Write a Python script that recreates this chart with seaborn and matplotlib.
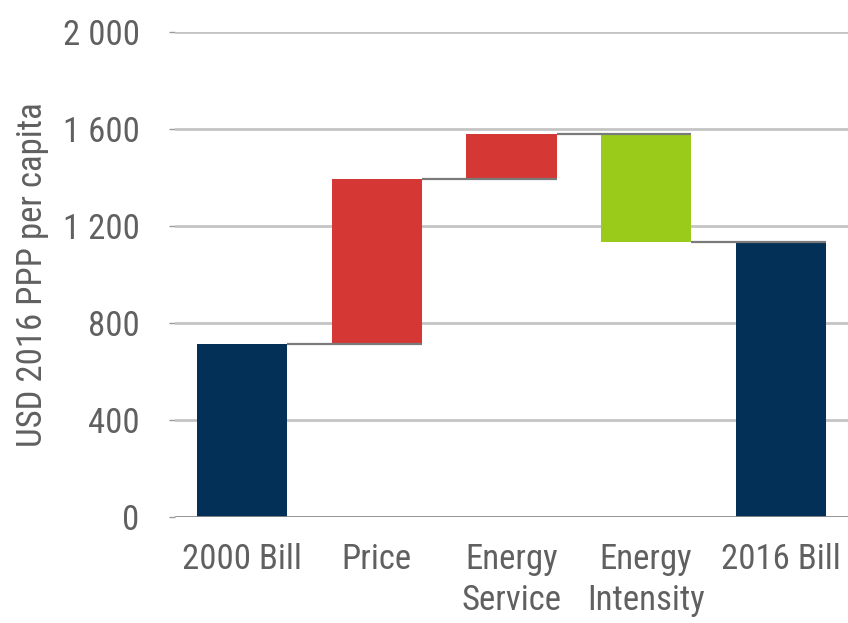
import matplotlib
matplotlib.use("Agg")
import matplotlib.pyplot as plt
import seaborn as sns
import numpy as np

categories = ["2000 Bill", "Price", "Energy\nService", "Energy\nIntensity", "2016 Bill"]
changes = [715, 680, 185, -445, 1135]
kinds = ["total", "delta", "delta", "delta", "total"]
yticks = [0, 400, 800, 1200, 1600, 2000]
ytick_labels = ["0", "400", "800", "1 200", "1 600", "2 000"]

NAVY = "#023057"
RED = "#D43734"
GREEN = "#9BCB1A"

# compute bottoms / heights
bottoms, heights, colors, levels = [], [], [], []
level = 0
for c, k in zip(changes, kinds):
    if k == "total":
        bottoms.append(0); heights.append(c); colors.append(NAVY); level = c
    else:
        if c >= 0:
            bottoms.append(level); heights.append(c); colors.append(RED)
        else:
            bottoms.append(level + c); heights.append(-c); colors.append(GREEN)
        level = level + c
    levels.append(level)

sns.set_theme(style="white")
plt.rcParams["font.family"] = ["Roboto Condensed", "Archivo Narrow",
                               "Barlow Semi Condensed", "Liberation Sans", "DejaVu Sans"]

fig = plt.figure(figsize=(8.48, 6.23), dpi=100)
ax = fig.add_axes([175/848, (623-517)/623, 673/848, (517-32)/623])

bw = 0.67
sns.barplot(x=categories, y=heights, bottom=bottoms, width=bw, ax=ax,
            color=NAVY, saturation=1, zorder=3)
for p, col in zip(ax.patches, colors):
    p.set_facecolor(col)
    p.set_edgecolor("none")

# connectors
for i in range(len(categories) - 1):
    ax.plot([i + bw/2, i + 1 + bw/2], [levels[i], levels[i]], color="#7a7a7a",
            lw=1.6, zorder=4, solid_capstyle="butt")

ax.set_xlim(-0.5, 4.5)
ax.set_ylim(0, 2000)
ax.set_yticks(yticks)
ax.set_yticklabels(ytick_labels)
for y in yticks[1:]:
    ax.axhline(y, color="#c4c4c4", lw=2, zorder=1)
ax.axhline(0, color="#8a8a8a", lw=2, zorder=5)

for s in ax.spines.values():
    s.set_visible(False)

ax.tick_params(axis="y", length=4.5, width=1, color="#9a9a9a", pad=21,
               labelsize=25, labelcolor="#606060", left=True)
ax.tick_params(axis="x", length=0, pad=19, labelsize=25, labelcolor="#606060")
for lab in ax.get_xticklabels():
    lab.set_linespacing(1.3)
    lab.set_va("top")

ax.set_ylabel("USD 2016 PPP per capita", fontsize=25, color="#606060", labelpad=10)
ax.set_xlabel("")

fig.savefig("out.png", dpi=100)
